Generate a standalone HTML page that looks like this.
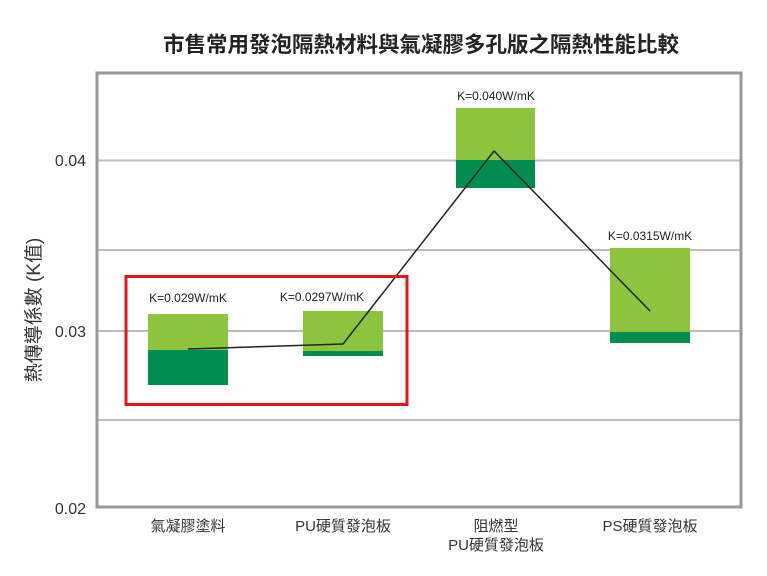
<!DOCTYPE html>
<html><head><meta charset="utf-8"><style>
html,body{margin:0;padding:0;background:#fff;}
svg{display:block;}
text{font-family:"Liberation Sans","Noto Sans CJK TC",sans-serif;}
</style></head><body>
<svg width="767" height="576" viewBox="0 0 767 576" xmlns="http://www.w3.org/2000/svg">
<text x="421" y="52" text-anchor="middle" font-size="21.5" font-weight="bold" fill="#222">市售常用發泡隔熱材料與氣凝膠多孔版之隔熱性能比較</text>
<g stroke="#bdbdbd" stroke-width="2">
<line x1="98" y1="160.5" x2="741" y2="160.5"/>
<line x1="98" y1="250" x2="741" y2="250"/>
<line x1="98" y1="331" x2="741" y2="331"/>
<line x1="98" y1="420" x2="741" y2="420"/>
</g>
<rect x="148" y="314" width="80" height="36" fill="#8cc43e"/>
<rect x="148" y="350" width="80" height="35" fill="#028d50"/>
<rect x="303" y="311" width="80" height="40" fill="#8cc43e"/>
<rect x="303" y="351" width="80" height="5" fill="#028d50"/>
<rect x="456" y="108" width="79" height="52" fill="#8cc43e"/>
<rect x="456" y="160" width="79" height="28" fill="#028d50"/>
<rect x="610" y="248" width="80" height="84" fill="#8cc43e"/>
<rect x="610" y="332" width="80" height="11" fill="#028d50"/>
<polyline points="188,349 343,344 494,151 650,311" fill="none" stroke="#222" stroke-width="1.5"/>
<rect x="126" y="276.5" width="281" height="128" fill="none" stroke="#e8141b" stroke-width="3"/>
<rect x="97" y="73" width="644" height="434" fill="none" stroke="#999" stroke-width="3"/>
<g font-size="16" fill="#333" text-anchor="end">
<text x="86" y="166">0.04</text>
<text x="86" y="337">0.03</text>
<text x="86" y="514">0.02</text>
</g>
<text transform="translate(40,310) rotate(-90)" text-anchor="middle" font-size="19" fill="#333">熱傳導係數 (K值)</text>
<g font-size="12" fill="#222" text-anchor="middle">
<text x="188" y="302">K=0.029W/mK</text>
<text x="322" y="301">K=0.0297W/mK</text>
<text x="496" y="100">K=0.040W/mK</text>
<text x="650" y="240">K=0.0315W/mK</text>
</g>
<g font-size="15" fill="#333" text-anchor="middle">
<text x="188" y="531">氣凝膠塗料</text>
<text x="343" y="531">PU硬質發泡板</text>
<text x="496" y="531">阻燃型</text>
<text x="496" y="550">PU硬質發泡板</text>
<text x="650" y="531">PS硬質發泡板</text>
</g>
</svg>
</body></html>
